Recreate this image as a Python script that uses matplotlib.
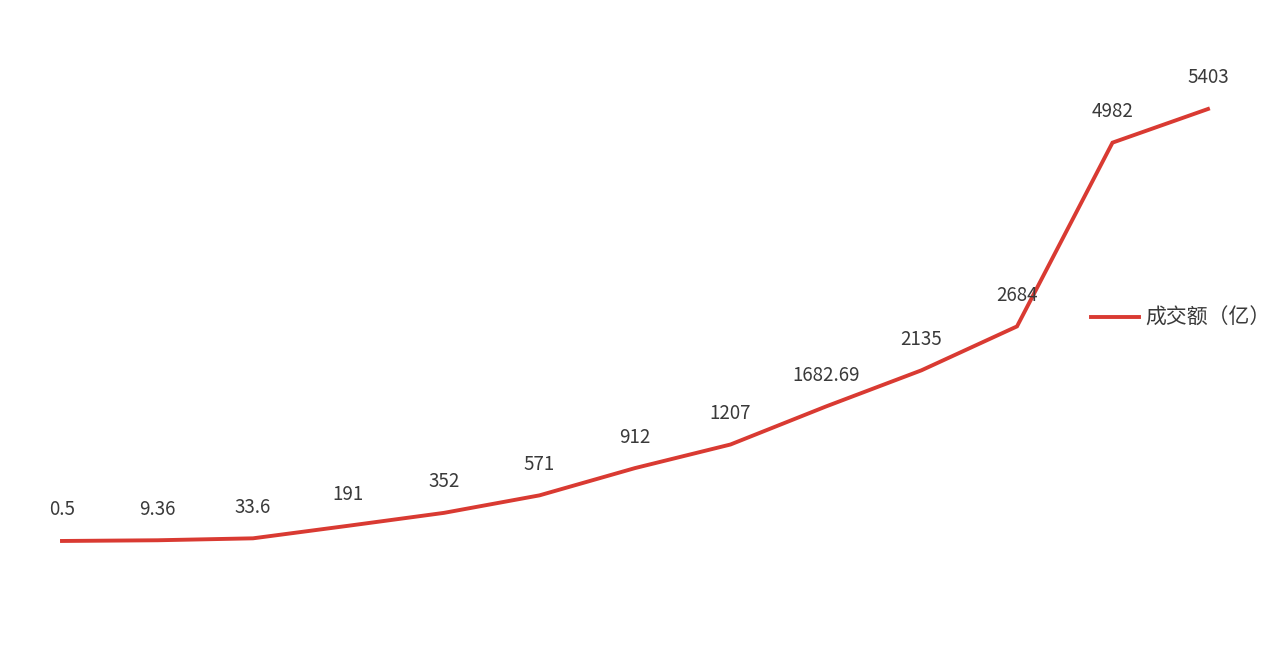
import matplotlib.pyplot as plt

plt.rcParams['font.family'] = ['Noto Sans CJK SC', 'DejaVu Sans']

# 成交额（亿）
years = list(range(13))
values = [0.5, 9.36, 33.6, 191, 352, 571, 912, 1207, 1682.69, 2135, 2684, 4982, 5403]
labels = ['0.5', '9.36', '33.6', '191', '352', '571', '912', '1207', '1682.69',
          '2135', '2684', '4982', '5403']

fig = plt.figure(figsize=(12.8, 6.52), dpi=100)
ax = fig.add_axes([0, 0, 1, 1])

line_color = '#d93a32'
ax.plot(years, values, color=line_color, lw=2.8, solid_joinstyle='miter', label='成交额（亿）')

for x, v, t in zip(years, values, labels):
    ax.annotate(t, (x, v), xytext=(0, 31), textcoords='offset pixels',
                ha='center', va='center', fontsize=13.5, color='#3a3a3a')

ax.set_xlim(-0.649, 12.754)
ax.set_ylim(-1388, 6766)
ax.axis('off')

leg = ax.legend(loc='center left', bbox_to_anchor=(1091 / 1280, 1 - 318 / 652),
                frameon=False, fontsize=15, handlelength=2.3, handletextpad=0.3,
                borderpad=0, borderaxespad=0)
for t in leg.get_texts():
    t.set_color('#3a3a3a')

fig.savefig('out.png', dpi=100, facecolor='white')
